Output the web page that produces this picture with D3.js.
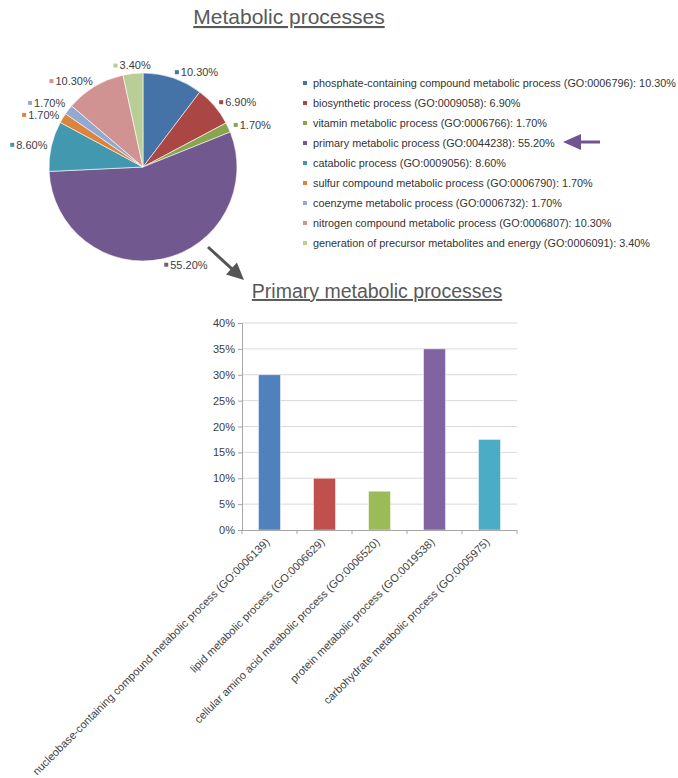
<!DOCTYPE html>
<html>
<head>
<meta charset="utf-8">
<script src="https://cdn.jsdelivr.net/npm/d3@7"></script>
<style>
  body { margin: 0; background: #fff; }
  text { font-family: "Liberation Sans", Arial, sans-serif; }
</style>
</head>
<body>
<svg id="chart" width="678" height="778"></svg>
<script>
// ---- Metabolic processes (pie) ----
const pieCategories = [
  "phosphate-containing compound metabolic process",
  "biosynthetic process",
  "vitamin metabolic process",
  "primary metabolic process",
  "catabolic process",
  "sulfur compound metabolic process",
  "coenzyme metabolic process",
  "nitrogen compound metabolic process",
  "generation of precursor metabolites and energy"
];
const pieCodes = ["GO:0006796", "GO:0009058", "GO:0006766", "GO:0044238", "GO:0009056",
                  "GO:0006790", "GO:0006732", "GO:0006807", "GO:0006091"];
const pieValues = [10.3, 6.9, 1.7, 55.2, 8.6, 1.7, 1.7, 10.3, 3.4];
const pieColors = ["#4572A7", "#AA4643", "#89A54E", "#71588F", "#4198AF",
                   "#DB843D", "#93A9CF", "#D19392", "#B9CD96"];

// ---- Primary metabolic processes (bars) ----
const barCategories = [
  "nucleobase-containing compound metabolic process (GO:0006139)",
  "lipid metabolic process (GO:0006629)",
  "cellular amino acid metabolic process (GO:0006520)",
  "protein metabolic process (GO:0019538)",
  "carbohydrate metabolic process (GO:0005975)"
];
const barValues = [0.30, 0.10, 0.075, 0.35, 0.175];
const barColors = ["#4F81BD", "#C0504D", "#9BBB59", "#8064A2", "#4BACC6"];
const yTickValues = [0, 0.05, 0.10, 0.15, 0.20, 0.25, 0.30, 0.35, 0.40];

const svg = d3.select("#chart");
const textColor = "#404040";
const pct = v => v.toFixed(2) + "%";

// Titles
function underlinedTitle(x, y, size, label) {
  return svg.append("text")
    .attr("x", x).attr("y", y)
    .attr("text-anchor", "middle")
    .attr("font-size", size)
    .attr("fill", "#595959")
    .attr("text-decoration", "underline")
    .text(label);
}
underlinedTitle(289, 24, 21, "Metabolic processes");
underlinedTitle(377, 298, 19.5, "Primary metabolic processes");

// Pie
const cx = 143, cy = 167, r = 94;
const pieG = svg.append("g").attr("transform", `translate(${cx},${cy})`);
const arcs = d3.pie().sort(null).value(d => d)(pieValues);
const arcGen = d3.arc().innerRadius(0).outerRadius(r);

pieG.selectAll("path.slice").data(arcs).join("path")
  .attr("class", "slice")
  .attr("d", arcGen)
  .attr("fill", (d, i) => pieColors[i])
  .attr("stroke", "#fff")
  .attr("stroke-width", 0.6);

// Outside data labels: colour square + percentage
let lastLeftY = null;
arcs.forEach((d, i) => {
  const a = (d.startAngle + d.endAngle) / 2;
  const s = Math.sin(a), c = Math.cos(a);
  const g = pieG.append("g");
  const t = g.append("text")
    .attr("font-size", 11)
    .attr("fill", textColor)
    .attr("dy", "0.35em")
    .text(pct(d.data));
  const tw = t.node().getComputedTextLength();
  const total = tw + 6;
  let left, py;
  if (Math.abs(s) < 0.2 && c > 0) {
    const rad = r + 8;
    left = rad * s - total / 2;
    py = -rad * c;
  } else if (s > 0) {
    const rad = r + 6;
    left = rad * s;
    py = -rad * c;
  } else {
    // left side: right-aligned against the rim, kept 12px apart vertically
    left = (r + 4) * s - total;
    py = -(r + 6) * c;
    if (lastLeftY !== null && py > lastLeftY - 12) py = lastLeftY - 12;
    lastLeftY = py;
  }
  g.append("rect")
    .attr("x", left).attr("y", py - 2)
    .attr("width", 4).attr("height", 4)
    .attr("fill", pieColors[i]);
  t.attr("x", left + 6).attr("y", py);
});

// Legend
const legend = svg.append("g").attr("transform", "translate(303,83)");
pieValues.forEach((v, i) => {
  const row = legend.append("g").attr("transform", `translate(0,${i * 20})`);
  row.append("rect").attr("x", 0).attr("y", -2).attr("width", 4).attr("height", 4)
    .attr("fill", pieColors[i]);
  row.append("text").attr("x", 10).attr("dy", "0.35em")
    .attr("font-size", 10.85).attr("fill", "#333")
    .text(`${pieCategories[i]} (${pieCodes[i]}): ${pct(v)}`);
});

// Block arrow helper
function arrow(x1, y1, x2, y2, headLen, headHalf, shaft, color) {
  const dx = x2 - x1, dy = y2 - y1, L = Math.hypot(dx, dy);
  const ux = dx / L, uy = dy / L, px = -uy, py = ux;
  const bx = x2 - ux * headLen, by = y2 - uy * headLen;
  svg.append("line")
    .attr("x1", x1).attr("y1", y1).attr("x2", bx + ux).attr("y2", by + uy)
    .attr("stroke", color).attr("stroke-width", shaft);
  svg.append("path")
    .attr("d", `M${x2},${y2}L${bx + px * headHalf},${by + py * headHalf}L${bx - px * headHalf},${by - py * headHalf}Z`)
    .attr("fill", color);
}
arrow(600, 142, 563, 142, 18, 8, 3, "#6F5593");
arrow(208, 247, 244, 280, 17, 8, 3, "#555555");

// Bar chart
const plot = { left: 242, right: 517, top: 323, bottom: 530 };
const x = d3.scaleBand().domain(barCategories).range([plot.left, plot.right]).paddingInner(0).paddingOuter(0);
const y = d3.scaleLinear().domain([0, 0.4]).range([plot.bottom, plot.top]);

// Gridlines
svg.append("g").selectAll("line").data(yTickValues.slice(1)).join("line")
  .attr("x1", plot.left).attr("x2", plot.right)
  .attr("y1", d => y(d)).attr("y2", d => y(d))
  .attr("stroke", "#D9D9D9").attr("stroke-width", 1);

// Y axis
const yAxis = svg.append("g").attr("transform", `translate(${plot.left},0)`)
  .call(d3.axisLeft(y).tickValues(yTickValues).tickFormat(d3.format(".0%")).tickSize(4).tickPadding(3));
yAxis.select(".domain").attr("stroke", "#A6A6A6");
yAxis.selectAll(".tick line").attr("stroke", "#A6A6A6");
yAxis.selectAll(".tick text").attr("font-size", 11).attr("fill", textColor)
  .attr("font-family", "Liberation Sans, Arial, sans-serif");

// Bars
const bw = x.bandwidth() * 0.4;
svg.append("g").selectAll("rect").data(barValues).join("rect")
  .attr("x", (d, i) => x(barCategories[i]) + (x.bandwidth() - bw) / 2)
  .attr("y", d => y(d))
  .attr("width", bw)
  .attr("height", d => y(0) - y(d))
  .attr("fill", (d, i) => barColors[i])
  .attr("stroke", "#ffffff").attr("stroke-opacity", 0.6).attr("stroke-width", 0.8);

// X axis with boundary ticks
const xg = svg.append("g");
xg.append("line").attr("x1", plot.left).attr("x2", plot.right)
  .attr("y1", plot.bottom + 0.5).attr("y2", plot.bottom + 0.5)
  .attr("stroke", "#A6A6A6");
const bounds = barCategories.map(c => x(c)).concat([plot.right]);
xg.selectAll("line.tk").data(bounds).join("line").attr("class", "tk")
  .attr("x1", d => d).attr("x2", d => d)
  .attr("y1", plot.bottom).attr("y2", plot.bottom + 4)
  .attr("stroke", "#A6A6A6");
xg.selectAll("text").data(barCategories).join("text")
  .attr("transform", d => `translate(${x(d) + x.bandwidth() / 2 - 2},${plot.bottom + 10}) rotate(-45)`)
  .attr("text-anchor", "end")
  .attr("dy", "0.35em")
  .attr("font-size", 11)
  .attr("fill", textColor)
  .text(d => d);
</script>
</body>
</html>
